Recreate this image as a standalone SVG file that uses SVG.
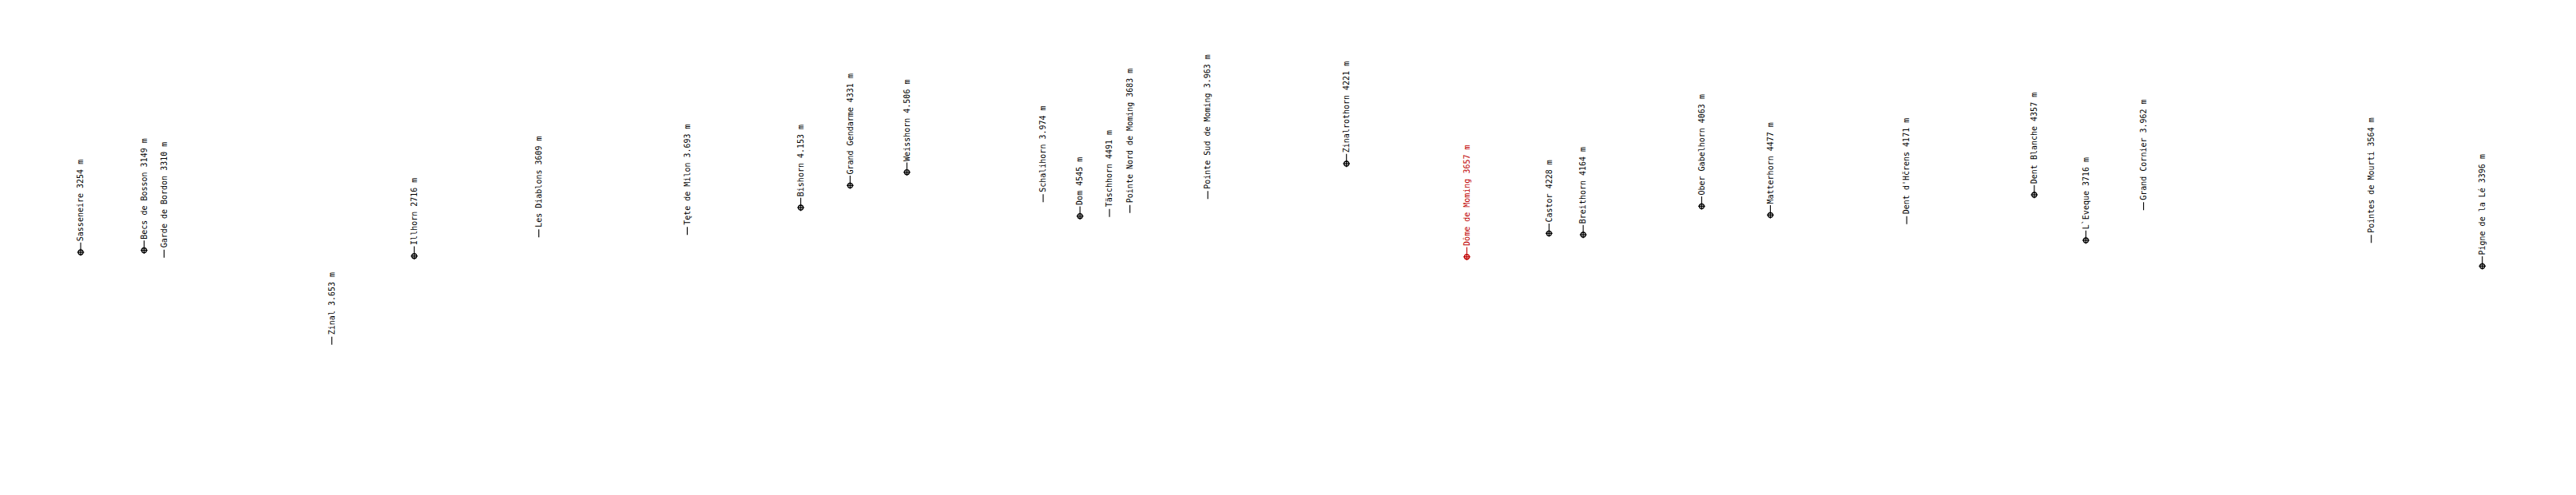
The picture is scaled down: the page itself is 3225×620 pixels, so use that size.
<svg xmlns="http://www.w3.org/2000/svg" xmlns:xlink="http://www.w3.org/1999/xlink" width="3225" height="620" viewBox="0 0 3225 620">
<style>
  .lbl { font-family: "DejaVu Sans Mono", "Liberation Mono", monospace; font-size: 10px; fill: #000; }
  .red { fill: #c00000; }
  .tick { stroke: #000; stroke-width: 1.1; }
  .tick.r { stroke: #c00000; }
  .dot { fill: none; stroke: #000; stroke-width: 1.3; }
  .dot.r { stroke: #c00000; }
</style>
<defs>
  <g id="pin">
    <circle cx="0" cy="0" r="3" />
    <line x1="-4.3" y1="0" x2="4.3" y2="0" />
    <line x1="0" y1="-4.3" x2="0" y2="4.3" />
  </g>
</defs>
<rect width="3225" height="620" fill="#fff"/>
<g id="connectors">
  <line class="tick" x1="101" y1="312" x2="101" y2="303.7"/>
  <line class="tick" x1="180.4" y1="309.5" x2="180.4" y2="301.2"/>
  <line class="tick" x1="205.4" y1="322.7" x2="205.4" y2="312.7"/>
  <line class="tick" x1="415.4" y1="431.7" x2="415.4" y2="421.7"/>
  <line class="tick" x1="518.6" y1="316.7" x2="518.6" y2="308.4"/>
  <line class="tick" x1="674.6" y1="297.3" x2="674.6" y2="287.3"/>
  <line class="tick" x1="860.4" y1="294.3" x2="860.4" y2="284.3"/>
  <line class="tick" x1="1002.5" y1="256" x2="1002.5" y2="247.7"/>
  <line class="tick" x1="1064.3" y1="228.3" x2="1064.3" y2="220"/>
  <line class="tick" x1="1135.4" y1="211.7" x2="1135.4" y2="203.4"/>
  <line class="tick" x1="1306" y1="253.3" x2="1306" y2="243.3"/>
  <line class="tick" x1="1352.1" y1="266.7" x2="1352.1" y2="258.4"/>
  <line class="tick" x1="1389" y1="271.7" x2="1389" y2="261.7"/>
  <line class="tick" x1="1414.6" y1="266.7" x2="1414.6" y2="256.7"/>
  <line class="tick" x1="1512.1" y1="249.3" x2="1512.1" y2="239.3"/>
  <line class="tick" x1="1685.7" y1="201" x2="1685.7" y2="192.7"/>
  <line class="tick r" x1="1836.4" y1="317.7" x2="1836.4" y2="309.4"/>
  <line class="tick" x1="1939.3" y1="288.3" x2="1939.3" y2="280"/>
  <line class="tick" x1="1982.1" y1="290" x2="1982.1" y2="281.7"/>
  <line class="tick" x1="2130.4" y1="254.3" x2="2130.4" y2="246"/>
  <line class="tick" x1="2216.4" y1="265.3" x2="2216.4" y2="257"/>
  <line class="tick" x1="2387.1" y1="280.7" x2="2387.1" y2="270.7"/>
  <line class="tick" x1="2546.8" y1="240" x2="2546.8" y2="231.7"/>
  <line class="tick" x1="2611.4" y1="297" x2="2611.4" y2="288.7"/>
  <line class="tick" x1="2683.6" y1="263.3" x2="2683.6" y2="253.3"/>
  <line class="tick" x1="2968.7" y1="304.3" x2="2968.7" y2="294.3"/>
  <line class="tick" x1="3107.7" y1="329.3" x2="3107.7" y2="321"/>
</g>
<g id="sasseneire"><use xlink:href="#pin" class="dot" x="101" y="316"/><text class="lbl" transform="translate(104.2,302.2) rotate(-90)">Sasseneire 3254 m</text></g>
<g id="becs-de-bosson"><use xlink:href="#pin" class="dot" x="180.4" y="313.5"/><text class="lbl" transform="translate(183.6,299.7) rotate(-90)">Becs de Bosson 3149 m</text></g>
<g id="garde-de-bordon"><text class="lbl" transform="translate(208.6,310.2) rotate(-90)">Garde de Bordon 3310 m</text></g>
<g id="zinal"><text class="lbl" transform="translate(418.6,419.2) rotate(-90)">Zinal 3.653 m</text></g>
<g id="illhorn"><use xlink:href="#pin" class="dot" x="518.6" y="320.7"/><text class="lbl" transform="translate(521.8,306.9) rotate(-90)">Illhorn 2716 m</text></g>
<g id="les-diablons"><text class="lbl" transform="translate(677.8,284.8) rotate(-90)">Les Diablons 3609 m</text></g>
<g id="tete-de-milon"><text class="lbl" transform="translate(863.6,281.8) rotate(-90)">Tęte de Milon 3.693 m</text></g>
<g id="bishorn"><use xlink:href="#pin" class="dot" x="1002.5" y="260"/><text class="lbl" transform="translate(1005.7,246.2) rotate(-90)">Bishorn 4.153 m</text></g>
<g id="grand-gendarme"><use xlink:href="#pin" class="dot" x="1064.3" y="232.3"/><text class="lbl" transform="translate(1067.5,218.5) rotate(-90)">Grand Gendarme 4331 m</text></g>
<g id="weisshorn"><use xlink:href="#pin" class="dot" x="1135.4" y="215.7"/><text class="lbl" transform="translate(1138.6,201.9) rotate(-90)">Weisshorn 4.506 m</text></g>
<g id="schalihorn"><text class="lbl" transform="translate(1309.2,240.8) rotate(-90)">Schalihorn 3.974 m</text></g>
<g id="dom"><use xlink:href="#pin" class="dot" x="1352.1" y="270.7"/><text class="lbl" transform="translate(1355.3,256.9) rotate(-90)">Dom 4545 m</text></g>
<g id="taschhorn"><text class="lbl" transform="translate(1392.2,259.2) rotate(-90)">Täschhorn 4491 m</text></g>
<g id="pointe-nord-de-moming"><text class="lbl" transform="translate(1417.8,254.2) rotate(-90)">Pointe Nord de Moming 3683 m</text></g>
<g id="pointe-sud-de-moming"><text class="lbl" transform="translate(1515.3,236.8) rotate(-90)">Pointe Sud de Moming 3.963 m</text></g>
<g id="zinalrothorn"><use xlink:href="#pin" class="dot" x="1685.7" y="205"/><text class="lbl" transform="translate(1688.9,191.2) rotate(-90)">Zinalrothorn 4221 m</text></g>
<g id="dome-de-moming"><use xlink:href="#pin" class="dot r" x="1836.4" y="321.7"/><text class="lbl red" transform="translate(1839.6,307.9) rotate(-90)">Dôme de Moming 3657 m</text></g>
<g id="castor"><use xlink:href="#pin" class="dot" x="1939.3" y="292.3"/><text class="lbl" transform="translate(1942.5,278.5) rotate(-90)">Castor 4228 m</text></g>
<g id="breithorn"><use xlink:href="#pin" class="dot" x="1982.1" y="294"/><text class="lbl" transform="translate(1985.3,280.2) rotate(-90)">Breithorn 4164 m</text></g>
<g id="ober-gabelhorn"><use xlink:href="#pin" class="dot" x="2130.4" y="258.3"/><text class="lbl" transform="translate(2133.6,244.5) rotate(-90)">Ober Gabelhorn 4063 m</text></g>
<g id="matterhorn"><use xlink:href="#pin" class="dot" x="2216.4" y="269.3"/><text class="lbl" transform="translate(2219.6,255.5) rotate(-90)">Matterhorn 4477 m</text></g>
<g id="dent-d-herens"><text class="lbl" transform="translate(2390.3,268.2) rotate(-90)">Dent d'Hčrens 4171 m</text></g>
<g id="dent-blanche"><use xlink:href="#pin" class="dot" x="2546.8" y="244"/><text class="lbl" transform="translate(2550,230.2) rotate(-90)">Dent Blanche 4357 m</text></g>
<g id="l-eveque"><use xlink:href="#pin" class="dot" x="2611.4" y="301"/><text class="lbl" transform="translate(2614.6,287.2) rotate(-90)">L`Eveque 3716 m</text></g>
<g id="grand-cornier"><text class="lbl" transform="translate(2686.8,250.8) rotate(-90)">Grand Cornier 3.962 m</text></g>
<g id="pointes-de-mourti"><text class="lbl" transform="translate(2971.9,291.8) rotate(-90)">Pointes de Mourti 3564 m</text></g>
<g id="pigne-de-la-le"><use xlink:href="#pin" class="dot" x="3107.7" y="333.3"/><text class="lbl" transform="translate(3110.9,319.5) rotate(-90)">Pigne de la Lé 3396 m</text></g>
</svg>
